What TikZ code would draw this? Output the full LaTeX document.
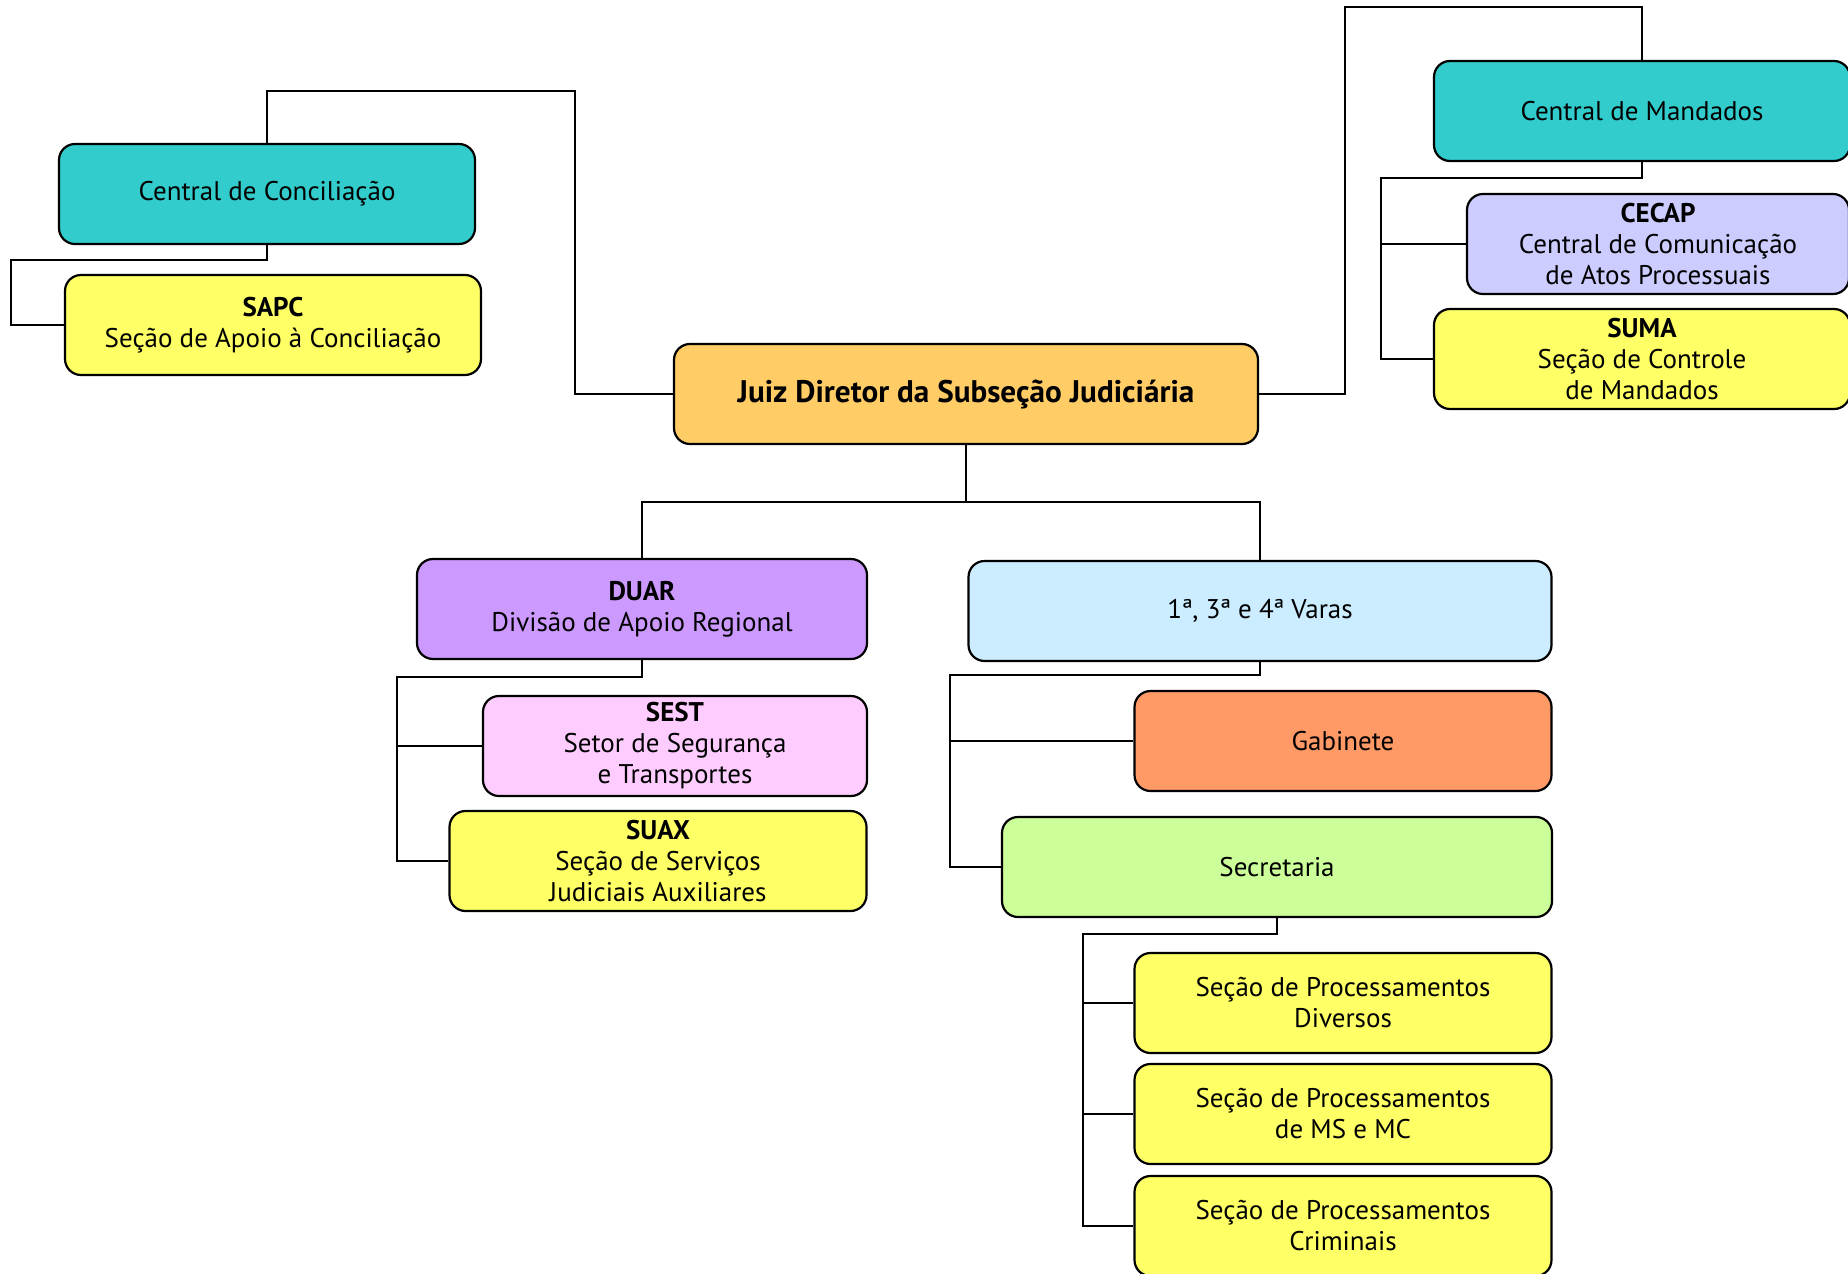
\documentclass[tikz,border=0pt]{standalone}
\usepackage{fontspec}
\setmainfont{PT Sans}
\usepackage{xcolor}
\usepackage{tikz}
\usetikzlibrary{positioning, calc}
\definecolor{tealbox}{RGB}{51, 204, 204}
\definecolor{yellowbox}{RGB}{255, 255, 102}
\definecolor{orangebox}{RGB}{255, 204, 102}
\definecolor{lilacbox}{RGB}{204, 204, 255}
\definecolor{purplebox}{RGB}{204, 153, 255}
\definecolor{skybox}{RGB}{204, 236, 255}
\definecolor{pinkbox}{RGB}{255, 204, 255}
\definecolor{salmonbox}{RGB}{255, 153, 102}
\definecolor{greenbox}{RGB}{204, 255, 153}
\tikzset{
  unit/.style={draw, line width=1.1pt, rounded corners=8pt, align=center,
    inner sep=0pt, minimum height=50pt, font=\fontsize{13.5}{15.5}\selectfont},
  link/.style={line width=0.9pt},
}

\begin{document}
\begin{tikzpicture}[x=0.5pt, y=-0.5pt]
    \useasboundingbox (0,0) rectangle (1848,1274);

    % Director
    \node[unit, fill=orangebox, minimum width=292pt, font=\fontsize{15.6}{18}\selectfont\bfseries] (juiz) at (966,394) {\raisebox{-1.5pt}{Juiz Diretor da Subseção Judiciária}};

    % Left branch
    \node[unit, fill=tealbox, minimum width=208pt] (conc) at (267,194) {\raisebox{-2pt}{Central de Conciliação}};
    \node[unit, fill=yellowbox, minimum width=208pt] (sapc) at (273,325) {\textbf{SAPC}\\Seção de Apoio à Conciliação};

    % Right branch
    \node[unit, fill=tealbox, minimum width=208pt] (mand) at (1642,111) {Central de Mandados};
    \node[unit, fill=lilacbox, minimum width=191pt] (cecap) at (1658,244) {\textbf{CECAP}\\Central de Comunicação\\de Atos Processuais};
    \node[unit, fill=yellowbox, minimum width=208pt] (suma) at (1642,359) {\textbf{SUMA}\\Seção de Controle\\de Mandados};

    % DUAR
    \node[unit, fill=purplebox, minimum width=225pt] (duar) at (642,609) {\textbf{DUAR}\\Divisão de Apoio Regional};
    \node[unit, fill=pinkbox, minimum width=192pt] (sest) at (675,746) {\textbf{SEST}\\Setor de Segurança\\e Transportes};
    \node[unit, fill=yellowbox, minimum width=208.5pt] (suax) at (658,861) {\textbf{SUAX}\\Seção de Serviços\\Judiciais Auxiliares};

    % Varas
    \node[unit, fill=skybox, minimum width=291.5pt] (varas) at (1260,611) {\raisebox{-1.5pt}{1ª, 3ª e 4ª Varas}};
    \node[unit, fill=salmonbox, minimum width=208.5pt] (gab) at (1343,741) {Gabinete};
    \node[unit, fill=greenbox, minimum width=275pt] (secr) at (1277,867) {Secretaria};
    \node[unit, fill=yellowbox, minimum width=208.5pt] (spdiv) at (1343,1003) {Seção de Processamentos\\Diversos};
    \node[unit, fill=yellowbox, minimum width=208.5pt] (spms) at (1343,1114) {Seção de Processamentos\\de MS e MC};
    \node[unit, fill=yellowbox, minimum width=208.5pt] (spcrim) at (1343,1226) {Seção de Processamentos\\Criminais};

    % Connectors
    \coordinate (lbend) at (575,91);
    \coordinate (concbus) at (11,260);
    \coordinate (rbend) at (1345,7);
    \coordinate (mandbus) at (1381,178);
    \coordinate (jbus) at (966,502);
    \coordinate (duarbus) at (397,677);
    \coordinate (varbus) at (950,675);
    \coordinate (secbus) at (1083,934);

    \draw[link] (juiz.west) -| (lbend) -| (conc.north);
    \draw[link] (conc.south) |- (concbus) |- (sapc.west);

    \draw[link] (juiz.east) -| (rbend) -| (mand.north);
    \draw[link] (mand.south) |- (mandbus) |- (suma.west);
    \draw[link] (cecap.west) -- (cecap.west -| mandbus);

    \draw[link] (juiz.south) -- (jbus);
    \draw[link] (duar.north) |- (jbus) -| (varas.north);

    \draw[link] (duar.south) |- (duarbus) |- (suax.west);
    \draw[link] (sest.west) -- (sest.west -| duarbus);

    \draw[link] (varas.south) |- (varbus) |- (secr.west);
    \draw[link] (gab.west) -- (gab.west -| varbus);

    \draw[link] (secr.south) |- (secbus) |- (spcrim.west);
    \draw[link] (spdiv.west) -- (spdiv.west -| secbus);
    \draw[link] (spms.west) -- (spms.west -| secbus);
\end{tikzpicture}
\end{document}
